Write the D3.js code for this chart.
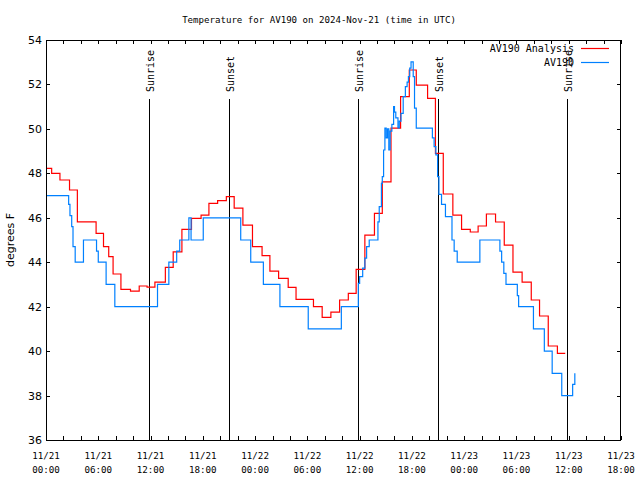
<!DOCTYPE html>
<html><head><meta charset="utf-8">
<script src="https://cdn.jsdelivr.net/npm/d3@7"></script>
<style>body{margin:0;background:#fff} svg{display:block}</style>
</head><body>
<script>
const chartTitle = "Temperature for AV190 on 2024-Nov-21 (time in UTC)";
const yLabel = "degrees F";
const seriesNames = ["AV190 Analysis", "AV190"];
const seriesColors = ["#ff0000", "#0080ff"];
const yTicks = [36, 38, 40, 42, 44, 46, 48, 50, 52, 54];
const startTime = Date.UTC(2024, 10, 21, 0, 0);
const endHour = 66;

// AV190 Analysis (hours since 11/21 00:00 UTC, degrees F)
const redHours = [0, 0.65, 1.6, 2.7, 3.6, 5.75, 6.6, 7.2, 7.7, 8.6, 9.7, 10.7, 11.6, 12.5, 13.7, 14.6, 15.6, 16.7, 17.8, 18.7, 19.7, 20.7, 21.6, 22.6, 23.7, 24.8, 25.7, 26.7, 27.8, 28.7, 30.7, 31.7, 32.7, 33.7, 34.7, 35.6, 36.6, 37.7, 38.6, 39.6, 40.7, 41.7, 42.5, 43.8, 44.7, 45.6, 46.7, 47.7, 48.7, 49.6, 50.55, 51.6, 52.6, 53.6, 54.65, 55.7, 56.65, 57.65, 58.7, 59.6];
const redValues = [48.22, 48.0, 47.7, 47.25, 45.82, 45.3, 44.7, 44.25, 43.47, 42.78, 42.7, 42.93, 42.88, 43.1, 43.77, 44.47, 45.48, 45.97, 46.12, 46.65, 46.77, 46.95, 46.43, 45.67, 44.7, 44.3, 43.6, 43.27, 42.87, 42.33, 42.0, 41.52, 41.75, 42.3, 42.6, 43.68, 45.22, 46.2, 47.62, 50.03, 51.45, 52.65, 51.97, 51.37, 48.9, 47.07, 46.12, 45.48, 45.36, 45.63, 46.17, 45.81, 44.77, 43.55, 43.1, 42.3, 41.58, 40.23, 39.9, 39.9];

// AV190 observations
const blueHours = [0, 2.6, 2.75, 2.95, 3.1, 3.35, 4.3, 5.8, 6.0, 6.9, 7.9, 12.8, 14.1, 15.0, 15.35, 16.4, 16.65, 18.05, 22.35, 23.5, 24.95, 26.85, 30.1, 33.9, 35.85, 36.0, 36.35, 36.6, 36.8, 37.1, 37.35, 38.1, 38.25, 38.5, 38.6, 38.75, 38.9, 39.05, 39.2, 39.35, 39.5, 39.7, 39.9, 40.0, 40.15, 40.4, 40.55, 40.75, 41.0, 41.25, 41.45, 41.6, 41.75, 41.9, 42.15, 42.3, 42.5, 44.35, 44.55, 44.75, 44.95, 45.1, 45.4, 45.85, 46.6, 46.85, 47.2, 49.8, 52.1, 52.3, 52.55, 52.8, 54.1, 54.25, 55.95, 57.2, 58.1, 59.2, 60.45, 60.7];
const blueValues = [47.0, 46.6, 46.1, 45.6, 44.7, 44.0, 45.0, 44.5, 44.0, 43.0, 42.0, 43.0, 44.0, 44.5, 45.0, 46.0, 45.0, 46.0, 45.0, 44.0, 43.0, 42.0, 41.0, 42.0, 43.05, 43.35, 43.73, 44.18, 44.7, 45.0, 45.0, 45.82, 46.5, 47.55, 47.85, 49.05, 50.03, 49.6, 50.0, 49.05, 49.9, 50.2, 51.0, 50.75, 50.5, 50.05, 50.35, 50.7, 51.45, 51.9, 52.1, 52.35, 52.73, 53.02, 52.35, 50.93, 50.03, 49.6, 49.2, 48.83, 47.85, 47.05, 46.6, 46.05, 45.0, 44.5, 44.0, 45.0, 44.5, 44.0, 43.5, 43.0, 42.5, 42.0, 41.0, 40.0, 39.0, 38.0, 38.5, 39.0];

const sunLabels = ["Sunrise", "Sunset", "Sunrise", "Sunset", "Sunrise"];
const sunHours = [11.87, 21.04, 35.85, 45.03, 59.85];

const W = 640, H = 480;
const M = {left: 46, right: 19, top: 40, bottom: 40};
const toDate = h => new Date(startTime + h * 3600000);

const svg = d3.select("body").append("svg").attr("width", W).attr("height", H)
  .style("font-family", "'DejaVu Sans Mono', monospace");

const x = d3.scaleUtc().domain([toDate(0), toDate(endHour)]).range([M.left, W - M.right]);
const y = d3.scaleLinear().domain([36, 54]).range([H - M.bottom, M.top]);

const tickDates = d3.range(0, endHour + 0.1, 2).map(toDate);
const fmtDay = d3.utcFormat("%m/%d"), fmtTime = d3.utcFormat("%H:%M");

// axes (ticks inward, mirrored)
const tl = 4;
const xb = svg.append("g").attr("transform", `translate(0,${H - M.bottom})`)
  .call(d3.axisTop(x).tickValues(tickDates).tickSize(tl).tickFormat(""));
const xt = svg.append("g").attr("transform", `translate(0,${M.top})`)
  .call(d3.axisBottom(x).tickValues(tickDates).tickSize(tl).tickFormat(""));
const yl = svg.append("g").attr("transform", `translate(${M.left},0)`)
  .call(d3.axisRight(y).tickValues(yTicks).tickSize(tl).tickFormat(""));
const yr = svg.append("g").attr("transform", `translate(${W - M.right},0)`)
  .call(d3.axisLeft(y).tickValues(yTicks).tickSize(tl).tickFormat(""));
[xb, xt, yl, yr].forEach(g => { g.select(".domain").remove(); g.selectAll("line").attr("stroke", "#000").attr("shape-rendering", "crispEdges"); });

// x tick labels every 6 hours
const labelDates = d3.range(0, endHour + 0.1, 6).map(toDate);
const xl = svg.append("g").attr("font-size", 9.2).attr("fill", "#000").attr("text-anchor", "middle");
labelDates.forEach(d => {
  const t = xl.append("text").attr("x", x(d)).attr("y", H - M.bottom + 19);
  t.append("tspan").attr("x", x(d)).text(fmtDay(d));
  t.append("tspan").attr("x", x(d)).attr("dy", 14).text(fmtTime(d));
});

// y tick labels
svg.append("g").attr("font-family", "'DejaVu Sans', sans-serif").attr("font-size", 11).attr("text-anchor", "end")
  .selectAll("text").data(yTicks).join("text")
  .attr("x", M.left - 4).attr("y", d => y(d) + 4).text(d => d);

// y label
svg.append("text").attr("font-family", "'DejaVu Sans', sans-serif").attr("font-size", 11)
  .attr("text-anchor", "middle").attr("transform", `translate(14,${(M.top + H - M.bottom) / 2}) rotate(-90)`)
  .text(yLabel);

// title
svg.append("text").attr("x", W / 2 - 1).attr("y", 23).attr("text-anchor", "middle").attr("font-size", 9.1).text(chartTitle);

// sunrise / sunset lines
sunHours.forEach((h, i) => {
  const xx = Math.round(x(toDate(h))) + 0.5;
  svg.append("line").attr("x1", xx).attr("x2", xx).attr("y1", 99).attr("y2", H - M.bottom).attr("stroke", "#000");
  svg.append("text").attr("font-size", 10).attr("text-anchor", "start")
    .attr("transform", `translate(${xx + 4},92) rotate(-90)`).text(sunLabels[i]);
});

// series
const line = d3.line().x(d => x(toDate(d[0]))).y(d => y(d[1])).curve(d3.curveStepAfter);
const redData = redHours.map((h, i) => [h, redValues[i]]);
const blueData = blueHours.map((h, i) => [h, blueValues[i]]);
svg.append("path").datum(redData).attr("d", line).attr("fill", "none").attr("stroke", seriesColors[0]).attr("stroke-width", 1.2);
svg.append("path").datum(blueData).attr("d", line).attr("fill", "none").attr("stroke", seriesColors[1]).attr("stroke-width", 1.2);

// border
svg.append("rect").attr("x", M.left + 0.5).attr("y", M.top + 0.5).attr("width", W - M.left - M.right - 1).attr("height", H - M.top - M.bottom)
  .attr("fill", "none").attr("stroke", "#000").attr("shape-rendering", "crispEdges");

// legend
const lg = svg.append("g").attr("font-size", 10);
seriesNames.forEach((n, i) => {
  const yy = 48 + i * 14;
  lg.append("text").attr("x", 574).attr("y", yy + 4).attr("text-anchor", "end").text(n);
  lg.append("line").attr("x1", 581).attr("x2", 609).attr("y1", yy + 0.5).attr("y2", yy + 0.5).attr("stroke", seriesColors[i]).attr("stroke-width", 1.2);
});
</script>
</body></html>
